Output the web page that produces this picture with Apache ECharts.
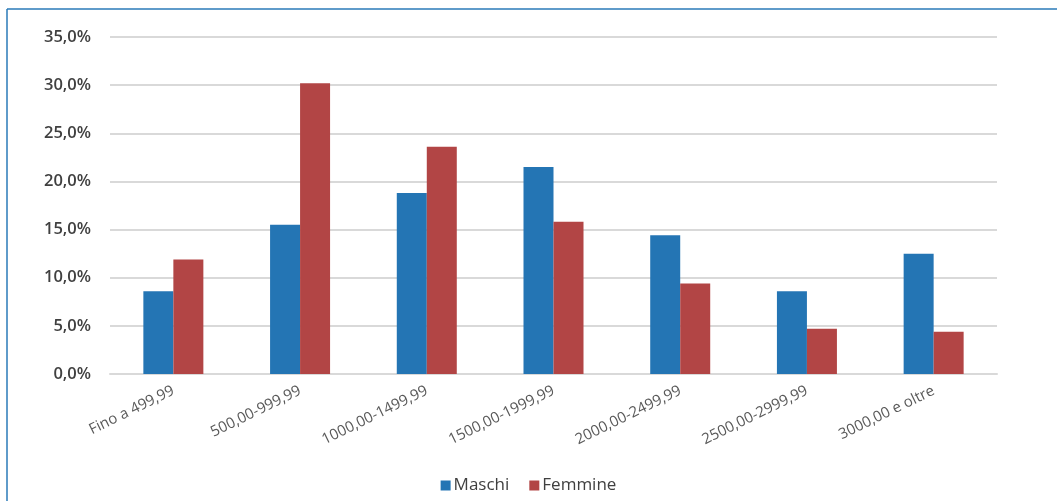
<!DOCTYPE html>
<html>
<head>
<meta charset="utf-8">
<script src="https://cdn.jsdelivr.net/npm/echarts@6/dist/echarts.min.js"></script>
<style>
html,body{margin:0;padding:0;background:#fff;}
#chart{width:1057px;height:501px;}
</style>
</head>
<body>
<div id="chart"></div>
<script>
const categories = ["Fino a 499,99","500,00-999,99","1000,00-1499,99","1500,00-1999,99","2000,00-2499,99","2500,00-2999,99","3000,00 e oltre"];
const maschi = [8.6, 15.5, 18.8, 21.5, 14.4, 8.6, 12.5];
const femmine = [11.9, 30.2, 23.6, 15.8, 9.4, 4.7, 4.4];
const seriesNames = ["Maschi", "Femmine"];
const colors = ["#2475B4", "#B24545"];

const chart = echarts.init(document.getElementById('chart'));
chart.setOption({
  animation: false,
  textStyle: { fontFamily: "Open Sans" },
  grid: { left: 110, right: 60, top: 37, bottom: 127 },
  graphic: [
    { type: 'line', shape: { x1: 7, y1: 9, x2: 1057, y2: 9 }, style: { stroke: '#2a7ab8', lineWidth: 1.5 } },
    { type: 'line', shape: { x1: 7, y1: 9, x2: 7, y2: 501 }, style: { stroke: '#2a7ab8', lineWidth: 1.5 } }
  ],
  legend: {
    bottom: 2,
    left: 'center',
    itemWidth: 10, itemHeight: 10,
    itemGap: 20,
    icon: 'rect',
    textStyle: { fontSize: 17, color: '#404040', padding: [0, 0, 0, -2] },
    data: seriesNames
  },
  xAxis: {
    type: 'category',
    data: categories,
    axisLine: { show: true, lineStyle: { color: '#d9d9d9', width: 2 } },
    axisTick: { show: false },
    axisLabel: { rotate: 26, fontSize: 15, color: '#595959', margin: 16, interval: 0 }
  },
  yAxis: {
    type: 'value',
    min: 0, max: 35, interval: 5,
    axisLine: { show: false },
    axisTick: { show: false },
    splitLine: { lineStyle: { color: '#d9d9d9', width: 2 } },
    axisLabel: {
      fontSize: 16.5, fontWeight: 600, color: '#404040', margin: 19,
      formatter: v => v.toFixed(1).replace('.', ',') + '%'
    }
  },
  series: [
    { name: seriesNames[0], type: 'bar', data: maschi, barWidth: 30, barGap: '0%', itemStyle: { color: colors[0] } },
    { name: seriesNames[1], type: 'bar', data: femmine, barWidth: 30, barGap: '0%', itemStyle: { color: colors[1] } }
  ]
});
</script>
</body>
</html>
